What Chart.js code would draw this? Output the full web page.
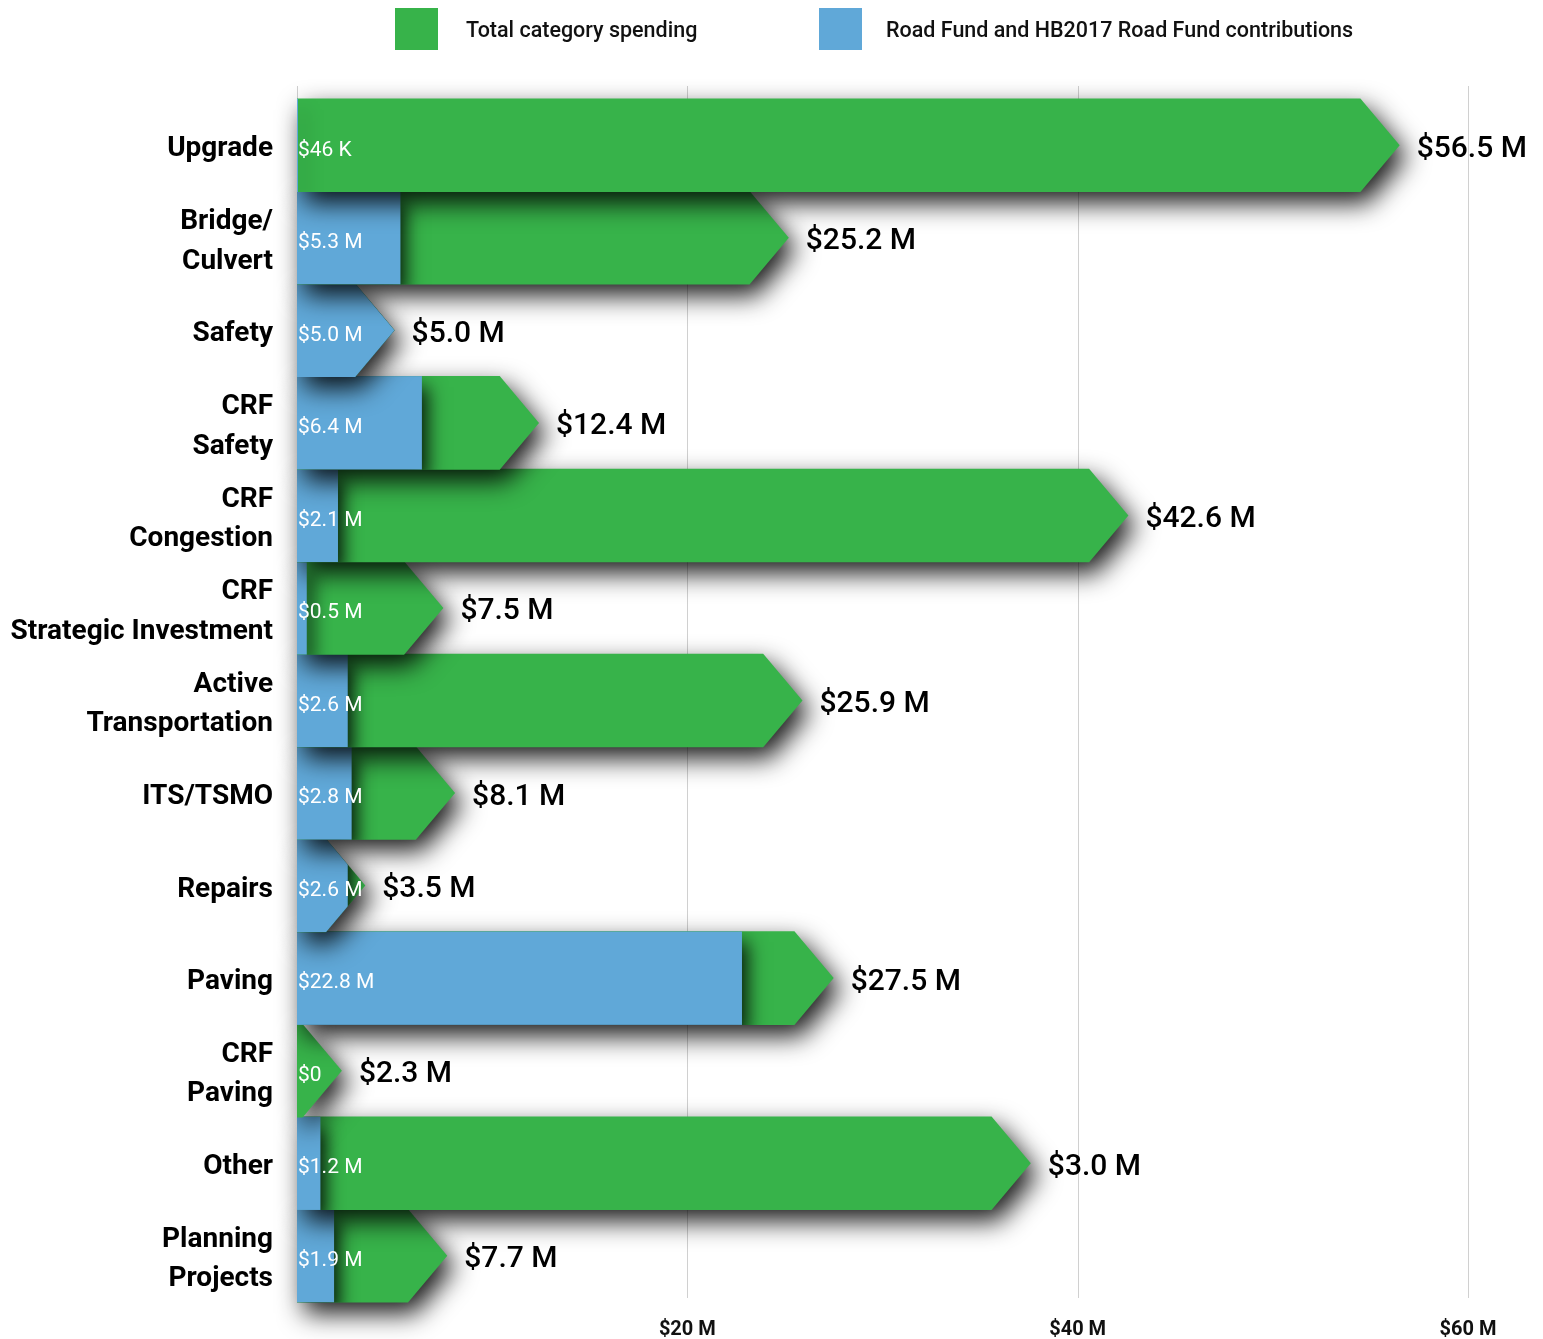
<!DOCTYPE html>
<html>
<head>
<meta charset="utf-8">
<script src="https://cdn.jsdelivr.net/npm/chart.js@4.4.1/dist/chart.umd.min.js"></script>
<style>
  html, body { margin: 0; padding: 0; background: #fff; }
  #wrap { width: 1543px; height: 1339px; position: relative; }
</style>
</head>
<body>
<div id="wrap"><canvas id="spendingChart"></canvas></div>
<script>
// Categories (top to bottom)
const categories = [
  'Upgrade',
  ['Bridge/', 'Culvert'],
  'Safety',
  ['CRF', 'Safety'],
  ['CRF', 'Congestion'],
  ['CRF', 'Strategic Investment'],
  ['Active', 'Transportation'],
  'ITS/TSMO',
  'Repairs',
  'Paving',
  ['CRF', 'Paving'],
  'Other',
  ['Planning', 'Projects']
];

// Total category spending ($ M)
const totalSpending = [56.5, 25.2, 5.0, 12.4, 42.6, 7.5, 25.9, 8.1, 3.5, 27.5, 2.3, 37.6, 7.7];
// Road Fund and HB2017 Road Fund contributions ($ M)
const roadFund = [0.046, 5.3, 5.0, 6.4, 2.1, 0.5, 2.6, 2.8, 2.6, 22.8, 0, 1.2, 1.9];

// Labels as printed on the chart
const totalLabels = ['$56.5 M', '$25.2 M', '$5.0 M', '$12.4 M', '$42.6 M', '$7.5 M', '$25.9 M',
  '$8.1 M', '$3.5 M', '$27.5 M', '$2.3 M', '$3.0 M', '$7.7 M'];
const fundLabels = ['$46 K', '$5.3 M', '$5.0 M', '$6.4 M', '$2.1 M', '$0.5 M', '$2.6 M',
  '$2.8 M', '$2.6 M', '$22.8 M', '$0', '$1.2 M', '$1.9 M'];

const xTicks = [20, 40, 60];

const GREEN = '#37b34a';
const BLUE = '#60a8d8';
const FONT = 'Roboto, "Noto Sans", sans-serif';

// path of a bar with an arrow-shaped end
function arrowPath(ctx, base, tip, top, bottom) {
  const arrow = (bottom - top) * 0.42;
  const shoulder = Math.max(base, tip - arrow);
  const mid = (top + bottom) / 2;
  ctx.beginPath();
  ctx.moveTo(base, top);
  ctx.lineTo(shoulder, top);
  ctx.lineTo(tip, mid);
  ctx.lineTo(shoulder, bottom);
  ctx.lineTo(base, bottom);
  ctx.closePath();
}

function setShadow(ctx) {
  ctx.shadowColor = 'rgba(0, 0, 0, 0.9)';
  ctx.shadowBlur = 26;
  ctx.shadowOffsetX = 7;
  ctx.shadowOffsetY = 11;
}

const arrowBars = {
  id: 'arrowBars',
  beforeDatasetsDraw(chart) {
    const ctx = chart.ctx;
    const area = chart.chartArea;
    const xScale = chart.scales.x;

    // vertical grid lines
    ctx.save();
    ctx.strokeStyle = '#d0d0d0';
    ctx.lineWidth = 1;
    [0].concat(xTicks).forEach(v => {
      const px = Math.round(xScale.getPixelForValue(v)) + 0.5;
      ctx.beginPath();
      ctx.moveTo(px, area.top - 13);
      ctx.lineTo(px, area.bottom - 4);
      ctx.stroke();
    });
    ctx.restore();

    const totalMeta = chart.getDatasetMeta(0);
    const fundMeta = chart.getDatasetMeta(1);
    const n = totalMeta.data.length;

    // draw from the bottom up so each shadow falls on the bar below
    for (let i = n - 1; i >= 0; i--) {
      const t = totalMeta.data[i].getProps(['x', 'y', 'base', 'height'], true);
      const f = fundMeta.data[i].getProps(['x', 'y', 'base', 'height'], true);
      const top = t.y - t.height / 2 - 0.5;
      const bottom = t.y + t.height / 2 + 0.5;

      ctx.save();
      setShadow(ctx);
      ctx.fillStyle = GREEN;
      arrowPath(ctx, t.base, t.x, top, bottom);
      ctx.fill();
      ctx.restore();

      if (roadFund[i] > 0) {
        ctx.save();
        arrowPath(ctx, t.base, t.x, top, bottom);
        ctx.clip();
        setShadow(ctx);
        ctx.shadowBlur = 18;
        ctx.shadowOffsetX = 5;
        ctx.fillStyle = BLUE;
        ctx.fillRect(f.base, top, Math.max(f.x - f.base, 1), bottom - top);
        ctx.restore();
      }
    }

    // value labels
    ctx.save();
    ctx.textBaseline = 'middle';
    ctx.textAlign = 'left';
    for (let i = 0; i < n; i++) {
      const t = totalMeta.data[i].getProps(['x', 'y', 'base'], true);
      ctx.fillStyle = '#ffffff';
      ctx.font = '400 21px ' + FONT;
      ctx.fillText(fundLabels[i], t.base + 1, t.y + 5);
      ctx.fillStyle = '#000000';
      ctx.font = '500 30px ' + FONT;
      ctx.fillText(totalLabels[i], t.x + 17, t.y + 4);
    }
    ctx.restore();
    return false;
  },
  afterDraw(chart) {
    // legend
    const ctx = chart.ctx;
    const boxX = [395, 819];
    const textX = [466, 886];
    ctx.save();
    ctx.font = '500 21.5px ' + FONT;
    ctx.textBaseline = 'middle';
    ctx.textAlign = 'left';
    chart.data.datasets.forEach((ds, k) => {
      ctx.fillStyle = ds.backgroundColor;
      ctx.fillRect(boxX[k], 8, 43, 42);
      ctx.fillStyle = '#111';
      ctx.fillText(ds.label, textX[k], 32);
    });
    ctx.restore();
  }
};

const ctx = document.getElementById('spendingChart').getContext('2d');
new Chart(ctx, {
  type: 'bar',
  data: {
    labels: categories,
    datasets: [
      {
        label: 'Total category spending',
        data: totalSpending,
        backgroundColor: GREEN,
        grouped: false,
        barPercentage: 1,
        categoryPercentage: 1
      },
      {
        label: 'Road Fund and HB2017 Road Fund contributions',
        data: roadFund,
        backgroundColor: BLUE,
        grouped: false,
        barPercentage: 1,
        categoryPercentage: 1
      }
    ]
  },
  options: {
    indexAxis: 'y',
    responsive: true,
    maintainAspectRatio: false,
    animation: false,
    layout: { padding: { top: 99, right: 75, left: 0, bottom: 0 } },
    scales: {
      x: {
        min: 0,
        max: 60,
        grid: { display: false, drawTicks: false },
        border: { display: false },
        ticks: {
          stepSize: 20,
          padding: 16,
          color: '#111',
          font: { family: FONT, size: 20, weight: 'bold' },
          callback: v => (v === 0 ? '' : '$' + v + ' M')
        },
        afterFit: scale => { scale.height = 37; }
      },
      y: {
        grid: { display: false, drawTicks: false },
        border: { display: false },
        ticks: {
          padding: 24,
          labelOffset: 4,
          color: '#000',
          font: { family: FONT, size: 28, weight: 'bold', lineHeight: 1.41 }
        },
        afterFit: scale => {
          scale.width = 297;
          scale.paddingTop = 0;
          scale.paddingBottom = 0;
        }
      }
    },
    plugins: {
      legend: { display: false },
      tooltip: { enabled: false }
    }
  },
  plugins: [arrowBars]
});
</script>
</body>
</html>
